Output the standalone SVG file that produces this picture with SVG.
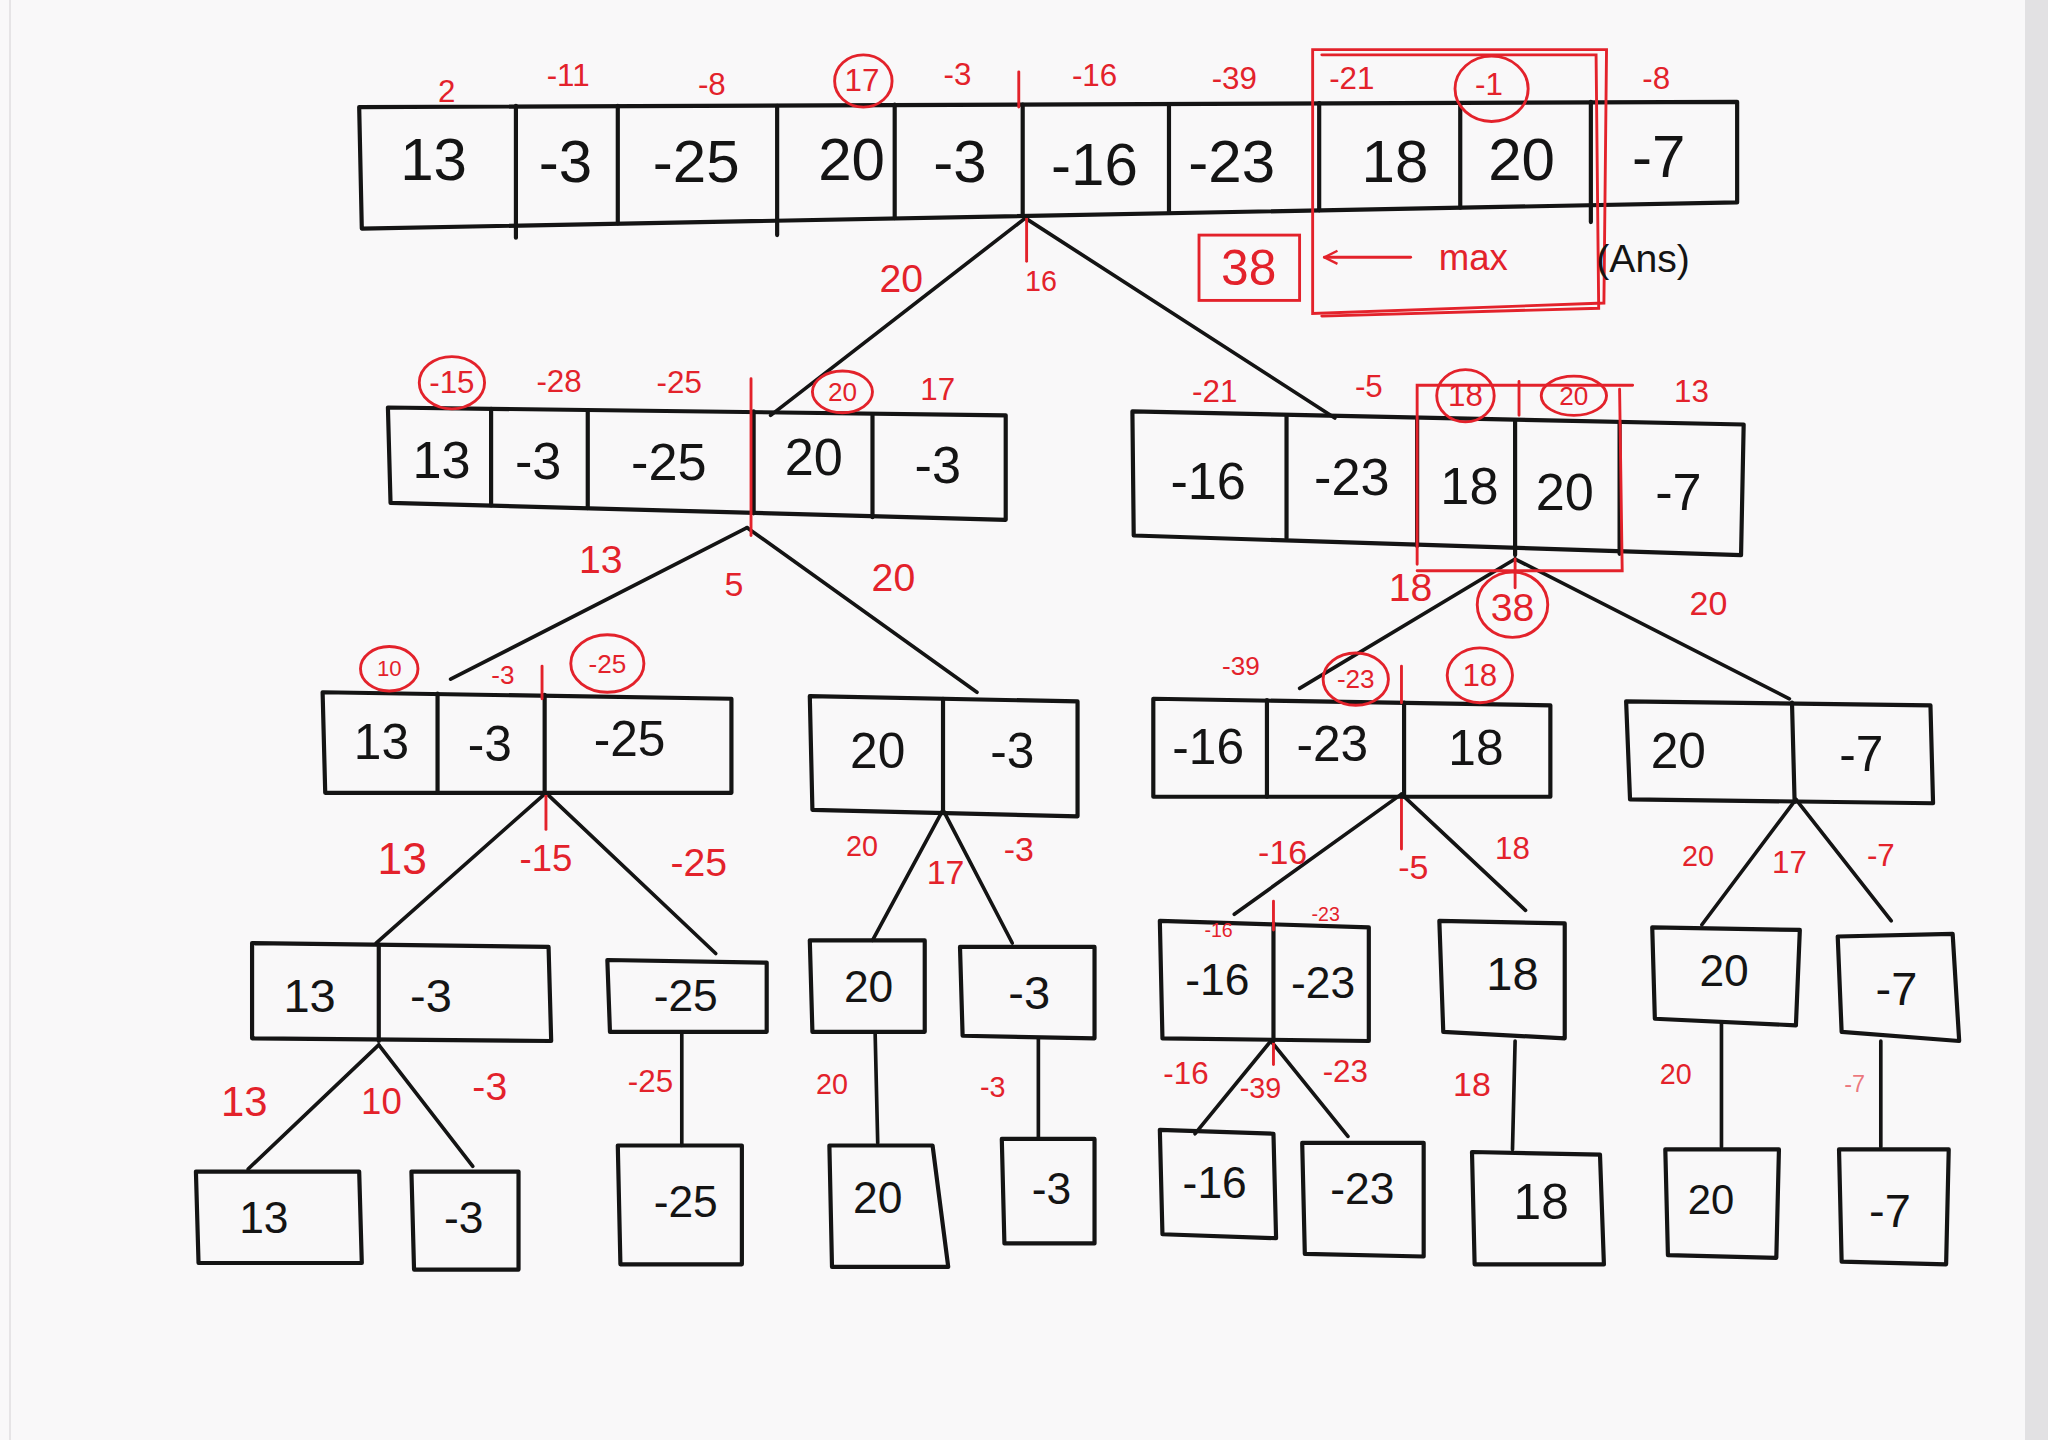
<svg xmlns="http://www.w3.org/2000/svg" width="2048" height="1440" viewBox="0 0 2048 1440">
<defs>
<style>
.box{fill:none;stroke:#141414;stroke-width:3.2;stroke-linejoin:round;stroke-linecap:round}
.edge{fill:none;stroke:#141414;stroke-width:2.8;stroke-linecap:round}
.v{font-family:"Liberation Sans","DejaVu Sans",sans-serif;fill:#141414;text-anchor:middle;dominant-baseline:central}
.r{font-family:"Liberation Sans","DejaVu Sans",sans-serif;fill:#e3222b;text-anchor:middle;dominant-baseline:central}
.rl{fill:none;stroke:#e3222b;stroke-width:2.2;stroke-linecap:round}
</style>
<marker id="arr" viewBox="0 0 12 12" refX="11" refY="6" markerWidth="12" markerHeight="12" orient="auto" markerUnits="userSpaceOnUse">
<path d="M1,1 L11,6 L1,11" fill="none" stroke="#e3222b" stroke-width="1.8"/>
</marker>
</defs>
<rect width="2048" height="1440" fill="#f9f8f9"/>
<rect x="2025" y="0" width="23" height="1440" fill="#e2e1e3"/>
<line x1="10" y1="0" x2="10" y2="1440" stroke="#e6e4e6" stroke-width="2"/>
<g transform="scale(1.306122)">

<!-- connectors -->
<g id="connectors">
<path class="edge" d="M785,167 L590,318"/>
<path class="edge" d="M785,167 L1022,320"/>
<path class="edge" d="M572,404 L345,520"/>
<path class="edge" d="M572,404 L748,530"/>
<path class="edge" d="M1160,428 L995,527"/>
<path class="edge" d="M1160,428 L1370,535"/>
<path class="edge" d="M418,607 L288,722"/>
<path class="edge" d="M418,607 L548,730"/>
<path class="edge" d="M722,620 L668,720"/>
<path class="edge" d="M722,620 L775,722"/>
<path class="edge" d="M1073,608 L945,700"/>
<path class="edge" d="M1073,608 L1168,697"/>
<path class="edge" d="M1375,612 L1303,708"/>
<path class="edge" d="M1375,612 L1448,705"/>
<path class="edge" d="M290,800 L190,895"/>
<path class="edge" d="M290,800 L362,893"/>
<path class="edge" d="M522,790 L522,877"/>
<path class="edge" d="M670,790 L672,875"/>
<path class="edge" d="M795,795 L795,870"/>
<path class="edge" d="M973,797 L915,868"/>
<path class="edge" d="M973,797 L1032,870"/>
<path class="edge" d="M1160,797 L1158,880"/>
<path class="edge" d="M1318,783 L1318,878"/>
<path class="edge" d="M1440,797 L1440,878"/>
</g>

<!-- edge labels -->
<g id="edge-labels">
<line class="rl" x1="786" y1="165" x2="786" y2="200"/>
<text class="r" x="797" y="215" font-size="22">16</text>
<text class="r" x="690" y="213" font-size="30">20</text>
<text class="r" x="460" y="428" font-size="30">13</text>
<text class="r" x="562" y="447" font-size="26">5</text>
<text class="r" x="684" y="442" font-size="30">20</text>
<line class="rl" x1="1160" y1="428" x2="1160" y2="450"/>
<text class="r" x="1080" y="450" font-size="30">18</text>
<ellipse class="rl" cx="1158" cy="463" rx="27" ry="25"/>
<text class="r" x="1158" y="465" font-size="30">38</text>
<text class="r" x="1308" y="462" font-size="26">20</text>
<line class="rl" x1="418" y1="607" x2="418" y2="635"/>
<text class="r" x="308" y="657" font-size="34">13</text>
<text class="r" x="418" y="657" font-size="28">-15</text>
<text class="r" x="535" y="660" font-size="30">-25</text>
<text class="r" x="660" y="648" font-size="22">20</text>
<text class="r" x="724" y="668" font-size="26">17</text>
<text class="r" x="780" y="650" font-size="26">-3</text>
<line class="rl" x1="1073" y1="610" x2="1073" y2="650"/>
<text class="r" x="982" y="652" font-size="26">-16</text>
<text class="r" x="1082" y="664" font-size="26">-5</text>
<text class="r" x="1158" y="650" font-size="24">18</text>
<text class="r" x="1300" y="655" font-size="22">20</text>
<text class="r" x="1370" y="660" font-size="24">17</text>
<text class="r" x="1440" y="655" font-size="24">-7</text>
<text class="r" x="187" y="843" font-size="32">13</text>
<text class="r" x="292" y="843" font-size="28">10</text>
<text class="r" x="375" y="832" font-size="30">-3</text>
<text class="r" x="498" y="828" font-size="24">-25</text>
<text class="r" x="637" y="830" font-size="22">20</text>
<text class="r" x="760" y="832" font-size="22">-3</text>
<line class="rl" x1="975" y1="797" x2="975" y2="815"/>
<text class="r" x="908" y="822" font-size="24">-16</text>
<text class="r" x="965" y="833" font-size="22">-39</text>
<text class="r" x="1030" y="820" font-size="24">-23</text>
<text class="r" x="1127" y="830" font-size="26">18</text>
<text class="r" x="1283" y="822" font-size="22">20</text>
<text class="r" x="1420" y="830" font-size="18" fill-opacity="0.6">-7</text>
</g>

<!-- level 0 -->
<g id="n0">
<path class="box" d="M275,82 L1330,78 L1330,155 L277,175 Z"/>
<path class="box" d="M395,81 L395,182 M473,81 L473,171 M595,81 L595,180 M685,80 L685,167 M783,80 L783,165 M895,80 L895,163 M1010,79 L1010,161 M1118,79 L1118,159 M1218,78 L1218,170"/>
<g class="v" font-size="46">
<text x="332" y="122">13</text><text x="433" y="124">-3</text><text x="533" y="124">-25</text>
<text x="652" y="122">20</text><text x="735" y="124">-3</text><text x="838" y="126">-16</text>
<text x="943" y="124">-23</text><text x="1068" y="124">18</text><text x="1165" y="122">20</text>
<text x="1270" y="120">-7</text>
</g>
<g class="r" font-size="24">
<text x="342" y="70">2</text><text x="435" y="58">-11</text><text x="545" y="65">-8</text>
<text x="660" y="62">17</text><text x="733" y="57">-3</text><text x="838" y="58">-16</text>
<text x="945" y="60">-39</text><text x="1035" y="60">-21</text><text x="1140" y="65">-1</text>
<text x="1268" y="60">-8</text>
</g>
<ellipse class="rl" cx="661" cy="62" rx="22" ry="20"/>
<ellipse class="rl" cx="1142" cy="68" rx="28" ry="25"/>
<line class="rl" x1="780" y1="55" x2="780" y2="82"/>
<path class="rl" d="M1005,38 L1230,38 L1228,232 L1005,240 Z" stroke-width="2.6"/>
<path class="rl" d="M1012,42 L1222,42 L1224,236 L1012,242"/>
<rect class="rl" x="918" y="180" width="77" height="50" stroke-width="2.6"/>
<text class="r" x="956" y="205" font-size="38">38</text>
<line class="rl" x1="1080" y1="197" x2="1014" y2="197" marker-end="url(#arr)"/>
<text class="r" x="1128" y="197" font-size="28">max</text>
<text class="v" x="1258" y="198" font-size="30">(Ans)</text>
</g>

<!-- level 1 -->
<g id="n1L">
<path class="box" d="M297,312 L770,318 L770,398 L299,385 Z"/>
<path class="box" d="M376,313 L376,387 M450,314 L450,389 M577,315 L577,393 M668,317 L668,396"/>
<g class="v" font-size="40">
<text x="338" y="352">13</text><text x="412" y="353">-3</text><text x="512" y="354">-25</text>
<text x="623" y="350">20</text><text x="718" y="356">-3</text>
</g>
<ellipse class="rl" cx="346" cy="293" rx="25" ry="20"/>
<g class="r" font-size="24">
<text x="346" y="293">-15</text><text x="428" y="292">-28</text><text x="520" y="293">-25</text>
<text x="645" y="300" font-size="20">20</text><text x="718" y="298">17</text>
</g>
<ellipse class="rl" cx="645" cy="300" rx="23" ry="16"/>
<line class="rl" x1="575" y1="290" x2="575" y2="410"/>
</g>

<g id="n1R">
<path class="box" d="M867,315 L1335,325 L1333,425 L868,410 Z"/>
<path class="box" d="M985,318 L985,412 M1085,320 L1085,418 M1160,322 L1160,425 M1240,324 L1240,424"/>
<g class="v" font-size="40">
<text x="925" y="368">-16</text><text x="1035" y="365">-23</text><text x="1125" y="372">18</text>
<text x="1198" y="377">20</text><text x="1285" y="377">-7</text>
</g>
<g class="r" font-size="24">
<text x="930" y="300">-21</text><text x="1048" y="296">-5</text>
<text x="1122" y="303">18</text><text x="1205" y="303" font-size="20">20</text>
<text x="1295" y="300">13</text>
</g>
<ellipse class="rl" cx="1122" cy="303" rx="22" ry="20"/>
<ellipse class="rl" cx="1205" cy="303" rx="25" ry="15"/>
<path class="rl" d="M1085,432 L1085,295 L1250,295 M1163,292 L1163,318 M1240,298 L1242,437 L1085,437" stroke-width="2.6"/>
</g>

<!-- level 2 -->
<g id="n2A">
<path class="box" d="M247,530 L560,535 L560,607 L249,607 Z"/>
<path class="box" d="M335,531 L335,607 M417,532 L417,607"/>
<g class="v" font-size="38">
<text x="292" y="568">13</text><text x="375" y="570">-3</text><text x="482" y="566">-25</text>
</g>
<ellipse class="rl" cx="298" cy="512" rx="22" ry="17"/>
<ellipse class="rl" cx="465" cy="508" rx="28" ry="22"/>
<g class="r" font-size="20">
<text x="298" y="512" font-size="17">10</text><text x="385" y="517">-3</text><text x="465" y="508">-25</text>
</g>
<line class="rl" x1="415" y1="510" x2="415" y2="535"/>
</g>

<g id="n2B">
<path class="box" d="M620,533 L825,537 L825,625 L622,620 Z"/>
<path class="box" d="M722,535 L722,622"/>
<g class="v" font-size="38"><text x="672" y="575">20</text><text x="775" y="575">-3</text></g>
</g>

<g id="n2C">
<path class="box" d="M883,535 L1187,540 L1187,610 L883,610 Z"/>
<path class="box" d="M970,536 L970,610 M1075,538 L1075,610"/>
<g class="v" font-size="38"><text x="925" y="572">-16</text><text x="1020" y="570">-23</text><text x="1130" y="573">18</text></g>
<ellipse class="rl" cx="1038" cy="520" rx="25" ry="20"/>
<ellipse class="rl" cx="1133" cy="517" rx="25" ry="21"/>
<g class="r" font-size="20">
<text x="950" y="510">-39</text><text x="1038" y="520">-23</text><text x="1133" y="517" font-size="24">18</text>
</g>
<line class="rl" x1="1073" y1="510" x2="1073" y2="538"/>
</g>

<g id="n2D">
<path class="box" d="M1245,537 L1478,540 L1480,615 L1248,612 Z"/>
<path class="box" d="M1372,538 L1374,614"/>
<g class="v" font-size="38"><text x="1285" y="575">20</text><text x="1425" y="577">-7</text></g>
</g>

<!-- level 3 -->
<g id="n3E">
<path class="box" d="M193,722 L420,725 L422,797 L193,795 Z"/>
<path class="box" d="M290,723 L290,797"/>
<g class="v" font-size="36"><text x="237" y="762">13</text><text x="330" y="762">-3</text></g>
</g>
<g id="n3F">
<path class="box" d="M465,735 L587,737 L587,790 L467,790 Z"/>
<text class="v" x="525" y="762" font-size="34">-25</text>
</g>
<g id="n3G">
<path class="box" d="M620,720 L708,720 L708,790 L622,790 Z"/>
<text class="v" x="665" y="755" font-size="34">20</text>
</g>
<g id="n3H">
<path class="box" d="M735,725 L838,725 L838,795 L737,793 Z"/>
<text class="v" x="788" y="760" font-size="36">-3</text>
</g>
<g id="n3I">
<path class="box" d="M888,705 L1048,710 L1048,797 L890,795 Z"/>
<path class="box" d="M975,707 L975,797"/>
<g class="v" font-size="34"><text x="932" y="750">-16</text><text x="1013" y="752">-23</text></g>
<g class="r" font-size="15"><text x="933" y="712">-16</text><text x="1015" y="700">-23</text></g>
<line class="rl" x1="975" y1="690" x2="975" y2="712"/>
</g>
<g id="n3J">
<path class="box" d="M1102,705 L1198,707 L1198,795 L1105,790 Z"/>
<text class="v" x="1158" y="745" font-size="36">18</text>
</g>
<g id="n3K">
<path class="box" d="M1265,710 L1378,712 L1375,785 L1267,780 Z"/>
<text class="v" x="1320" y="743" font-size="34">20</text>
</g>
<g id="n3L">
<path class="box" d="M1407,717 L1495,715 L1500,797 L1410,790 Z"/>
<text class="v" x="1452" y="757" font-size="36">-7</text>
</g>

<!-- level 4 -->
<g id="n4a"><path class="box" d="M150,897 L275,897 L277,967 L152,967 Z"/><text class="v" x="202" y="932" font-size="34">13</text></g>
<g id="n4b"><path class="box" d="M315,897 L397,897 L397,972 L317,972 Z"/><text class="v" x="355" y="932" font-size="34">-3</text></g>
<g id="n4c"><path class="box" d="M473,877 L568,877 L568,968 L475,968 Z"/><text class="v" x="525" y="920" font-size="34">-25</text></g>
<g id="n4d"><path class="box" d="M635,877 L714,877 L726,970 L637,970 Z"/><text class="v" x="672" y="917" font-size="34">20</text></g>
<g id="n4e"><path class="box" d="M767,872 L838,872 L838,952 L769,952 Z"/><text class="v" x="805" y="910" font-size="34">-3</text></g>
<g id="n4f"><path class="box" d="M888,865 L975,868 L977,948 L890,945 Z"/><text class="v" x="930" y="905" font-size="34">-16</text></g>
<g id="n4g"><path class="box" d="M997,875 L1090,875 L1090,962 L999,960 Z"/><text class="v" x="1043" y="910" font-size="34">-23</text></g>
<g id="n4h"><path class="box" d="M1127,882 L1225,884 L1228,968 L1129,968 Z"/><text class="v" x="1180" y="920" font-size="38">18</text></g>
<g id="n4i"><path class="box" d="M1275,880 L1362,880 L1360,963 L1277,961 Z"/><text class="v" x="1310" y="918" font-size="32">20</text></g>
<g id="n4j"><path class="box" d="M1408,880 L1492,880 L1490,968 L1410,966 Z"/><text class="v" x="1447" y="927" font-size="36">-7</text></g>

</g>
</svg>
